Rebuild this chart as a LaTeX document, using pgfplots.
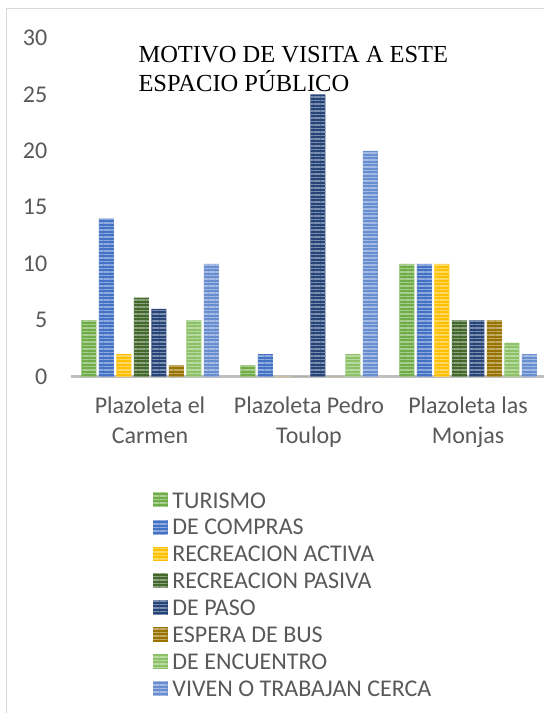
\documentclass[border=0pt]{standalone}
\usepackage{pgfplots}
\pgfplotsset{compat=1.18}
\usepackage{fontspec}
\setmainfont{Carlito}
\newfontfamily\titlefont{Liberation Serif}
\usetikzlibrary{patterns.meta}
\definecolor{cTur}{HTML}{70AD47}
\definecolor{cCom}{HTML}{4472C4}
\definecolor{cAct}{HTML}{FFC000}
\definecolor{cPas}{HTML}{43682B}
\definecolor{cPaso}{HTML}{264478}
\definecolor{cBus}{HTML}{997300}
\definecolor{cEnc}{HTML}{8CC168}
\definecolor{cViv}{HTML}{698ED0}
\definecolor{txt}{RGB}{89,89,89}
\definecolor{framec}{HTML}{D9D9D9}
\definecolor{axl}{HTML}{BFBFBF}
\pgfplotsset{
  stripebar/.style={fill=#1, draw=none,
    postaction={pattern={Lines[angle=0,distance=3.5bp,line width=1.3bp]}, pattern color=white!40!#1}}
}
\begin{document}
\begin{tikzpicture}
\path[use as bounding box] (0,0) rectangle (544bp,713bp);
\draw[framec, line width=1.5bp] (6.5bp,-10bp) -- (6.5bp,704.5bp) -- (560bp,704.5bp);
\begin{axis}[
  at={(70.5bp,336.3bp)}, anchor=south west,
  scale only axis, width=477bp, height=338.8bp,
  xmin=-0.5, xmax=2.5, ymin=0, ymax=30,
  ybar=2.5bp, bar width=15bp,
  axis lines*=left,
  y axis line style={draw=none},
  x axis line style={draw=axl, line width=2.5bp},
  ytick={0,5,...,30},
  xtick={0,1,2},
  xticklabels={{Plazoleta el\\Carmen},{Plazoleta Pedro\\Toulop},{Plazoleta las\\Monjas}},
  major tick length=0pt,
  tick style={draw=none},
  /pgf/number format/assume math mode=true,
  ticklabel style={font=\fontsize{24bp}{30bp}\selectfont, text=txt, inner sep=0pt},
  yticklabel style={xshift=-23bp},
  xticklabel style={align=center, yshift=-20bp},
  legend style={at={(0.173,-0.3415)}, anchor=north west, draw=none, fill=none, inner sep=0pt,
    font=\fontsize{24bp}{27bp}\selectfont, text=txt, row sep=11.5bp, column sep=4.7bp,
    nodes={inner sep=0pt, text height=15.4bp, text depth=0pt}},
  legend cell align=left,
  legend image code/.code={\draw[#1,draw=none] (0bp,-7bp) rectangle (14.5bp,7.5bp);},
]
\addplot[stripebar=cTur] coordinates {(0,5) (1,1) (2,10)};
\addplot[stripebar=cCom] coordinates {(0,14) (1,2) (2,10)};
\addplot[stripebar=cAct] coordinates {(0,2) (1,0) (2,10)};
\addplot[stripebar=cPas] coordinates {(0,7) (1,0) (2,5)};
\addplot[stripebar=cPaso] coordinates {(0,6) (1,25) (2,5)};
\addplot[stripebar=cBus] coordinates {(0,1) (1,0) (2,5)};
\addplot[stripebar=cEnc] coordinates {(0,5) (1,2) (2,3)};
\addplot[stripebar=cViv] coordinates {(0,10) (1,20) (2,2)};
\legend{TURISMO,DE COMPRAS,RECREACION ACTIVA,RECREACION PASIVA,DE PASO,ESPERA DE BUS,DE ENCUENTRO,VIVEN O TRABAJAN CERCA}
\end{axis}
\node[anchor=north west, align=left, inner sep=0pt, font=\titlefont\fontsize{24.5bp}{29bp}\selectfont] at (138.3bp,667.4bp) {MOTIVO DE VISITA A ESTE\\ESPACIO PÚBLICO};
\end{tikzpicture}
\end{document}
